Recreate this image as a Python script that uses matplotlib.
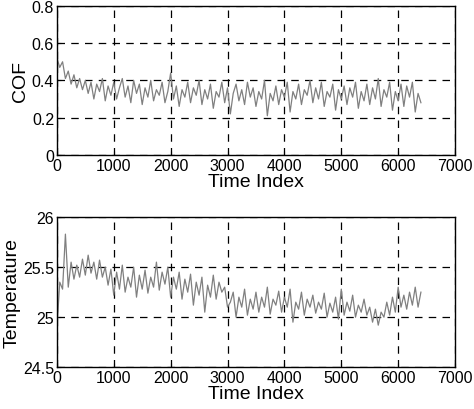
import numpy as np
import matplotlib
matplotlib.use("Agg")
import matplotlib.pyplot as plt

plt.rcParams["font.family"] = ["Liberation Sans", "DejaVu Sans"]

STEP = 50  # time index spacing of the sampled values

cof = [
    0.52, 0.47, 0.50, 0.41, 0.45, 0.38, 0.43, 0.36, 0.41, 0.35,
    0.40, 0.33, 0.39, 0.30, 0.38, 0.34, 0.41, 0.29, 0.37, 0.32,
    0.39, 0.30, 0.36, 0.41, 0.31, 0.37, 0.28, 0.40, 0.33, 0.38,
    0.27, 0.36, 0.31, 0.40, 0.29, 0.35, 0.32, 0.39, 0.28, 0.34,
    0.44, 0.30, 0.37, 0.26, 0.35, 0.31, 0.39, 0.28, 0.36, 0.32,
    0.40, 0.27, 0.35, 0.30, 0.38, 0.25, 0.34, 0.31, 0.39, 0.28,
    0.36, 0.22, 0.33, 0.38, 0.29, 0.35, 0.27, 0.39, 0.31, 0.36,
    0.26, 0.34, 0.30, 0.40, 0.21, 0.33, 0.29, 0.37, 0.27, 0.35,
    0.31, 0.39, 0.23, 0.34, 0.30, 0.38, 0.27, 0.35, 0.32, 0.40,
    0.28, 0.36, 0.30, 0.39, 0.26, 0.34, 0.31, 0.38, 0.24, 0.35,
    0.30, 0.37, 0.27, 0.36, 0.31, 0.39, 0.25, 0.34, 0.29, 0.38,
    0.27, 0.36, 0.30, 0.41, 0.26, 0.35, 0.31, 0.39, 0.24, 0.34,
    0.29, 0.38, 0.26, 0.37, 0.31, 0.39, 0.23, 0.33, 0.28,
]

temperature = [
    24.88, 25.35, 25.28, 25.83, 25.30, 25.55, 25.38, 25.52, 25.40, 25.58,
    25.42, 25.62, 25.44, 25.55, 25.38, 25.57, 25.40, 25.50, 25.32, 25.48,
    25.22, 25.45, 25.28, 25.52, 25.25, 25.40, 25.30, 25.50, 25.20, 25.42,
    25.28, 25.47, 25.24, 25.40, 25.30, 25.55, 25.27, 25.45, 25.33, 25.50,
    25.20, 25.40, 25.28, 25.45, 25.18, 25.38, 25.25, 25.43, 25.12, 25.35,
    25.22, 25.40, 25.05, 25.32, 25.20, 25.42, 25.18, 25.35, 25.25, 25.30,
    25.10, 25.15, 25.25, 25.00, 25.20, 25.10, 25.28, 25.02, 25.18, 25.08,
    25.25, 25.05, 25.20, 25.10, 25.30, 25.03, 25.18, 25.12, 25.26, 25.05,
    25.20, 25.10, 25.28, 24.95, 25.15, 25.08, 25.25, 25.02, 25.18, 25.10,
    25.22, 25.04, 25.15, 25.08, 25.24, 25.00, 25.14, 25.05, 25.20, 24.98,
    25.28, 25.02, 25.15, 25.06, 25.22, 25.00, 25.12, 25.05, 25.18, 25.02,
    25.10, 24.95, 25.08, 24.92, 25.05, 25.00, 25.15, 25.02, 25.20, 25.05,
    25.30, 25.10, 25.22, 25.08, 25.25, 25.12, 25.30, 25.10, 25.25,
]

time_cof = np.arange(len(cof)) * STEP
time_temp = np.arange(len(temperature)) * STEP


def style_axis(ax, ylabel, ylim, yticks):
    ax.set_xlim(0, 7000)
    ax.set_xticks(range(0, 7001, 1000))
    ax.set_ylim(*ylim)
    ax.set_yticks(yticks)
    ax.set_yticklabels([f"{t:g}" for t in yticks])
    ax.set_xlabel("Time Index", fontsize=14, labelpad=0)
    ax.set_ylabel(ylabel, fontsize=14, labelpad=2)
    ax.tick_params(direction="in", labelsize=11.5, length=3, pad=2)
    ax.grid(True, color="black", linestyle=(0, (6, 5)), linewidth=0.9)
    for s in ax.spines.values():
        s.set_linewidth(1.0)


fig = plt.figure(figsize=(4.74, 4.10), dpi=100)
ax1 = fig.add_axes([0.12, 0.62, 0.84, 0.363])
ax2 = fig.add_axes([0.12, 0.102, 0.84, 0.366])

ax1.plot(time_cof, cof, color="#808080", linewidth=0.9)
style_axis(ax1, "COF", (0, 0.8), [0, 0.2, 0.4, 0.6, 0.8])

ax2.plot(time_temp, temperature, color="#808080", linewidth=0.9)
style_axis(ax2, "Temperature", (24.5, 26), [24.5, 25, 25.5, 26])

fig.savefig("out.png", dpi=100)
